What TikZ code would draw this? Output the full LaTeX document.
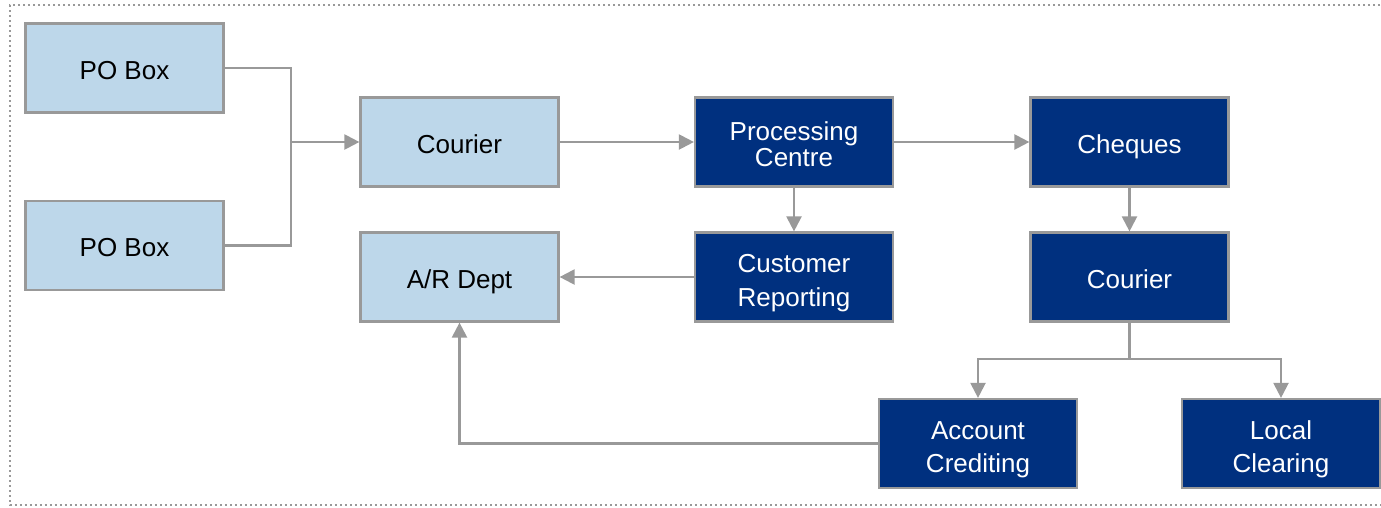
\documentclass[tikz,border=0pt]{standalone}
\usepackage{fontspec}
\setmainfont{Liberation Sans}
\usetikzlibrary{arrows.meta}
\definecolor{lightbox}{HTML}{BDD7EA}
\definecolor{darkbox}{HTML}{00307F}
\definecolor{linegray}{HTML}{999999}
% box label: centred lines with a given line pitch, drawn a little lower
% while keeping the natural box size for centring
\newcommand{\boxlabel}[2][27pt]{\fontsize{26}{#1}\selectfont
  \raisebox{-6pt}[\height][\depth]{\begin{tabular}{@{}c@{}}#2\end{tabular}}}
\tikzset{
  boxbase/.style={draw=linegray, line width=2.2pt, minimum width=198pt, minimum height=89pt,
    inner sep=0pt, align=center},
  lightnode/.style={boxbase, fill=lightbox, text=black},
  darknode/.style={boxbase, fill=darkbox, text=white},
  flow/.style={draw=linegray, line width=2.2pt},
  flowarrow/.style={flow, -{Triangle[length=15pt,width=15pt]}},
  frame/.style={draw=linegray, line width=2pt, dash pattern=on 2pt off 3pt}
}
\begin{document}
\begin{tikzpicture}[x=1pt,y=-1pt]
\useasboundingbox (0,0) rectangle (1381,507);
% dotted frame (right side runs off the page)
\draw[frame] (1395,5) -- (10,5) -- (10,505) -- (1395,505);

% left column
\node[lightnode] (po1) at (124.5,68) {\boxlabel{PO Box}};
\node[lightnode] (po2) at (124.5,245.5) {\boxlabel{PO Box}};
% second column
\node[lightnode] (cour1) at (459.5,142) {\boxlabel{Courier}};
\node[lightnode] (ar) at (459.5,277) {\boxlabel{A/R Dept}};
% third column
\node[darknode] (proc) at (794,142) {\boxlabel[26pt]{Processing\\Centre}};
\node[darknode] (cust) at (794,277) {\boxlabel[34pt]{Customer\\Reporting}};
% fourth column
\node[darknode] (cheq) at (1129.5,142) {\boxlabel{Cheques}};
\node[darknode] (cour2) at (1129.5,277) {\boxlabel{Courier}};
% bottom row
\node[darknode] (acc) at (978,443.5) {\boxlabel[33pt]{Account\\Crediting}};
\node[darknode] (loc) at (1281,443.5) {\boxlabel[33pt]{Local\\Clearing}};

% junction points
\coordinate (join) at (291,142);
\coordinate (split) at (1129.5,359);

% PO boxes merge into the courier
\draw[flow] (po1.east) -| (join);
\draw[flow] (po2.east) -| (join);
\draw[flowarrow] (join) -- (cour1.west);

% main flow
\draw[flowarrow] (cour1.east) -- (proc.west);
\draw[flowarrow] (proc.east) -- (cheq.west);
\draw[flowarrow] (proc.south) -- (cust.north);
\draw[flowarrow] (cheq.south) -- (cour2.north);
\draw[flowarrow] (cust.west) -- (ar.east);

% courier splits to crediting and clearing
\draw[flow] (cour2.south) -- (split);
\draw[flowarrow] (split) -| (acc.north);
\draw[flowarrow] (split) -| (loc.north);

% crediting feeds back to A/R
\draw[flowarrow] (acc.west) -| (ar.south);
\end{tikzpicture}
\end{document}
